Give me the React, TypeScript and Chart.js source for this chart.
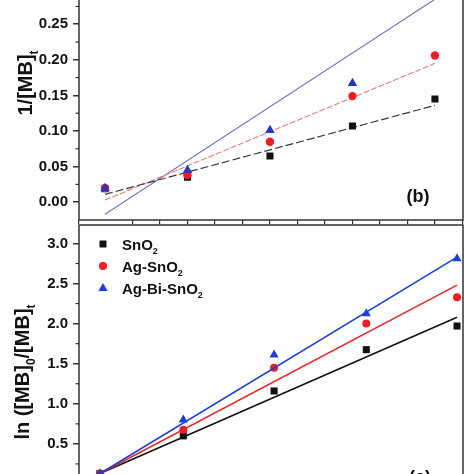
import React, { useEffect, useRef } from 'react';
import { Chart, registerables } from 'chart.js';

Chart.register(...registerables);

// ---------- data: panel (b) ----------
const timeTop = [0, 30, 60, 90, 120];
const invSnO2 = [0.019, 0.035, 0.065, 0.107, 0.145];
const invAgSnO2 = [0.02, 0.038, 0.085, 0.149, 0.206];
const invAgBiSnO2 = [0.0197, 0.045, 0.101, 0.167, 0.3];
const fitTopX = [0, 120];
const fitInvSnO2 = [0.011, 0.136];
const fitInvAgSnO2 = [0.003, 0.195];
const fitInvAgBiSnO2 = [-0.017, 0.285];

// ---------- data: panel (c) ----------
const timeBottom = [0, 28, 58.5, 89.5, 120];
const lnSnO2 = [0.13, 0.6, 1.16, 1.675, 1.97];
const lnAgSnO2 = [0.13, 0.675, 1.45, 2.0, 2.33];
const lnAgBiSnO2 = [0.13, 0.8, 1.61, 2.125, 2.81];
const fitBottomX = [0, 120];
const fitLnSnO2 = [0.13, 2.08];
const fitLnAgSnO2 = [0.13, 2.48];
const fitLnAgBiSnO2 = [0.13, 2.83];

type Part = { t: string; sub?: boolean };
const legendLabels: Part[][] = [
  [{ t: 'SnO' }, { t: '2', sub: true }],
  [{ t: 'Ag-SnO' }, { t: '2', sub: true }],
  [{ t: 'Ag-Bi-SnO' }, { t: '2', sub: true }],
];
const titleTop: Part[] = [{ t: '1/[MB]' }, { t: 't', sub: true }];
const titleBottom: Part[] = [
  { t: 'ln ([MB]' },
  { t: '0', sub: true },
  { t: '/[MB]' },
  { t: 't', sub: true },
];

const FONT = '"Liberation Sans", Arial, Helvetica, sans-serif';
const BLACK = '#111111';
const RED = '#ee1c25';
const BLUE = '#1d3fdc';

const pts = (xs: number[], ys: number[]) => xs.map((x, i) => ({ x, y: ys[i] }));

function measureParts(ctx: CanvasRenderingContext2D, parts: Part[], size: number) {
  let w = 0;
  for (const p of parts) {
    ctx.font = `bold ${p.sub ? Math.round(size * 0.62) : size}px ${FONT}`;
    w += ctx.measureText(p.t).width;
  }
  return w;
}

function drawParts(ctx: CanvasRenderingContext2D, parts: Part[], x: number, y: number, size: number) {
  let cx = x;
  ctx.textAlign = 'left';
  ctx.textBaseline = 'alphabetic';
  for (const p of parts) {
    const s = p.sub ? Math.round(size * 0.62) : size;
    ctx.font = `bold ${s}px ${FONT}`;
    ctx.fillText(p.t, cx, y + (p.sub ? size * 0.3 : 0));
    cx += ctx.measureText(p.t).width;
  }
}

function drawMarker(ctx: CanvasRenderingContext2D, style: string, x: number, y: number, color: string) {
  ctx.fillStyle = color;
  ctx.beginPath();
  if (style === 'rect') {
    ctx.rect(x - 3.5, y - 3.5, 7, 7);
  } else if (style === 'circle') {
    ctx.arc(x, y, 4, 0, Math.PI * 2);
  } else {
    ctx.moveTo(x, y - 5);
    ctx.lineTo(x + 4.6, y + 3);
    ctx.lineTo(x - 4.6, y + 3);
    ctx.closePath();
  }
  ctx.fill();
}

type FrameOpts = {
  offsetY: number;
  title: Part[];
  titleBaseX: number;
  titleCenterY: number;
  label: string;
  labelX: number;
  labelY: number;
  legend?: boolean;
};

function framePlugin(o: FrameOpts) {
  return {
    id: 'frame',
    afterDraw(chart: any) {
      const ctx: CanvasRenderingContext2D = chart.ctx;
      const { left, right, top, bottom } = chart.chartArea;
      ctx.save();
      // frame
      ctx.strokeStyle = '#333333';
      ctx.lineWidth = 1.5;
      ctx.strokeRect(left, top, right - left, bottom - top);
      // minor y ticks
      const ys = chart.scales.y;
      const tks = ys.ticks;
      if (tks.length > 1) {
        const step = tks[1].value - tks[0].value;
        ctx.lineWidth = 1.2;
        for (let i = -1; i < tks.length; i++) {
          const v = tks[0].value + (i + 0.5) * step;
          if (v <= ys.min || v >= ys.max) continue;
          const py = ys.getPixelForValue(v);
          ctx.beginPath();
          ctx.moveTo(left - 3.5, py);
          ctx.lineTo(left, py);
          ctx.stroke();
        }
      }
      // y title
      ctx.fillStyle = BLACK;
      const size = 20;
      const w = measureParts(ctx, o.title, size);
      ctx.save();
      ctx.translate(o.titleBaseX, o.titleCenterY - o.offsetY);
      ctx.rotate(-Math.PI / 2);
      drawParts(ctx, o.title, -w / 2, 0, size);
      ctx.restore();
      // panel label
      ctx.fillStyle = BLACK;
      ctx.font = `bold 18px ${FONT}`;
      ctx.textAlign = 'center';
      ctx.textBaseline = 'middle';
      ctx.fillText(o.label, o.labelX, o.labelY - o.offsetY);
      // legend
      if (o.legend) {
        const rows = [
          { style: 'rect', color: BLACK, y: 244 },
          { style: 'circle', color: RED, y: 266 },
          { style: 'triangle', color: BLUE, y: 288 },
        ];
        rows.forEach((r, i) => {
          const cy = r.y - o.offsetY;
          drawMarker(ctx, r.style, 103, cy, r.color);
          ctx.fillStyle = BLACK;
          drawParts(ctx, legendLabels[i], 122, cy + 5.5, 15);
        });
      }
      ctx.restore();
    },
  };
}

const tickFont = { family: FONT, size: 15, weight: 'bold' as const };

function PanelB() {
  const ref = useRef<HTMLCanvasElement>(null);
  useEffect(() => {
    const offsetY = -30;
    const chart = new Chart(ref.current!, {
      type: 'scatter',
      data: {
        datasets: [
          { data: pts(fitTopX, fitInvSnO2), showLine: true, pointRadius: 0, borderColor: '#3a3a3a', borderWidth: 1.2, borderDash: [8, 3], order: 10 },
          { data: pts(fitTopX, fitInvAgSnO2), showLine: true, pointRadius: 0, borderColor: '#e47a7a', borderWidth: 1.1, borderDash: [6, 2], order: 10 },
          { data: pts(fitTopX, fitInvAgBiSnO2), showLine: true, pointRadius: 0, borderColor: '#7078c4', borderWidth: 1.1, order: 10 },
          { data: pts(timeTop, invSnO2), pointStyle: 'rect', pointRadius: 5, backgroundColor: BLACK, borderWidth: 0, order: 3 },
          { data: pts(timeTop, invAgSnO2), pointStyle: 'circle', pointRadius: 4.2, backgroundColor: RED, borderWidth: 0, order: 2 },
          { data: pts(timeTop, invAgBiSnO2), pointStyle: 'triangle', pointRadius: 5.5, backgroundColor: '#2436c8', borderWidth: 0, order: 1 },
        ],
      },
      options: {
        responsive: false,
        animation: false,
        layout: { padding: { top: 18.6, right: 11, bottom: 0, left: 0 } },
        plugins: { legend: { display: false }, tooltip: { enabled: false } },
        scales: {
          x: {
            type: 'linear', min: -9.45, max: 130.2,
            ticks: { display: false, stepSize: 10 },
            grid: { drawOnChartArea: false, drawTicks: true, tickLength: 4, color: '#333', lineWidth: 1.2 },
            border: { display: false },
            afterFit: (s: any) => { s.height = 16; },
          },
          y: {
            type: 'linear', min: -0.025, max: 0.3,
            ticks: { stepSize: 0.05, includeBounds: false, padding: 5, color: BLACK, font: tickFont, callback: (v: any) => Number(v).toFixed(2) },
            grid: { drawOnChartArea: false, drawTicks: true, tickLength: 6, color: '#333', lineWidth: 1.5 },
            border: { display: false },
            afterFit: (s: any) => { s.width = 79; },
          },
        },
      } as any,
      plugins: [framePlugin({ offsetY, title: titleTop, titleBaseX: 32, titleCenterY: 83, label: '(b)', labelX: 418, labelY: 197 })],
    });
    return () => chart.destroy();
  }, []);
  return <canvas ref={ref} width={474} height={266} style={{ position: 'absolute', left: 0, top: -30, width: 474, height: 266 }} />;
}

function PanelC() {
  const ref = useRef<HTMLCanvasElement>(null);
  useEffect(() => {
    const offsetY = 205;
    const chart = new Chart(ref.current!, {
      type: 'scatter',
      data: {
        datasets: [
          { data: pts(fitBottomX, fitLnAgBiSnO2), showLine: true, pointRadius: 0, borderColor: BLUE, borderWidth: 1.6, order: 1 },
          { data: pts(fitBottomX, fitLnAgSnO2), showLine: true, pointRadius: 0, borderColor: '#e8282a', borderWidth: 1.6, order: 2 },
          { data: pts(fitBottomX, fitLnSnO2), showLine: true, pointRadius: 0, borderColor: BLACK, borderWidth: 1.6, order: 3 },
          { data: pts(timeBottom, lnSnO2), pointStyle: 'rect', pointRadius: 5, backgroundColor: BLACK, borderWidth: 0, order: 6 },
          { data: pts(timeBottom, lnAgSnO2), pointStyle: 'circle', pointRadius: 4, backgroundColor: RED, borderWidth: 0, order: 5 },
          { data: pts(timeBottom, lnAgBiSnO2), pointStyle: 'triangle', pointRadius: 5.3, backgroundColor: BLUE, borderWidth: 0, order: 4 },
        ],
      },
      options: {
        responsive: false,
        animation: false,
        layout: { padding: { top: 20, right: 11, bottom: 0, left: 0 } },
        plugins: { legend: { display: false }, tooltip: { enabled: false } },
        scales: {
          x: {
            type: 'linear', min: -7.06, max: 122,
            ticks: { display: false, stepSize: 10 },
            grid: { drawOnChartArea: false, drawTicks: true, tickLength: 4, color: '#333', lineWidth: 1.2 },
            border: { display: false },
            afterFit: (s: any) => { s.height = 16; },
          },
          y: {
            type: 'linear', min: -0.2, max: 3.23,
            ticks: { stepSize: 0.5, includeBounds: false, padding: 5, color: BLACK, font: tickFont, callback: (v: any) => Number(v).toFixed(1) },
            grid: { drawOnChartArea: false, drawTicks: true, tickLength: 6, color: '#333', lineWidth: 1.5 },
            border: { display: false },
            afterFit: (s: any) => { s.width = 79; },
          },
        },
      } as any,
      plugins: [framePlugin({ offsetY, title: titleBottom, titleBaseX: 29, titleCenterY: 372, label: '(c)', labelX: 420, labelY: 478, legend: true })],
    });
    return () => chart.destroy();
  }, []);
  return <canvas ref={ref} width={474} height={311} style={{ position: 'absolute', left: 0, top: 205, width: 474, height: 311 }} />;
}

export default function App() {
  return (
    <div style={{ position: 'fixed', left: 0, top: 0, width: 474, height: 474, overflow: 'hidden', background: '#ffffff' }}>
      <PanelB />
      <PanelC />
    </div>
  );
}
